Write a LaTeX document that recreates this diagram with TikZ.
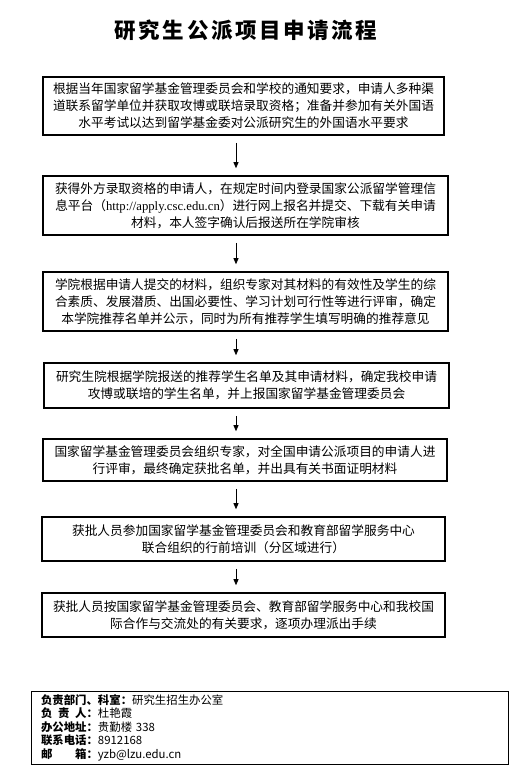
\documentclass[tikz,border=0pt]{standalone}
\usepackage{fontspec}
\usepackage{tikz}
\usetikzlibrary{arrows.meta, positioning, calc}
\newfontfamily\cjk{Noto Sans CJK SC}
\newfontfamily\urlfont{Liberation Serif}
\newcommand{\tsp}{\hspace{2.6pt}}

\tikzset{
  procbox/.style={draw, line width=1.6pt, inner sep=0pt, align=center,
    font=\cjk\fontsize{12.7}{17}\selectfont},
  arr/.style={-{Triangle[width=5pt,length=6pt]}, line width=0.8pt},
  infobox/.style={draw, line width=0.8pt, inner xsep=10pt, inner ysep=0pt,
    align=left, font=\cjk\fontsize{11.4}{13.5}\selectfont},
}

\begin{document}
\begin{tikzpicture}[x=1pt, y=-1pt]
\useasboundingbox (0,0) rectangle (521,782);

% Title
\node[font=\cjk\bfseries\fontsize{21.5}{26}\selectfont] (title) at (246,30)
  {研\tsp 究\tsp 生\tsp 公\tsp 派\tsp 项\tsp 目\tsp 申\tsp 请\tsp 流\tsp 程};

% Steps
\node[procbox, minimum width=401, minimum height=58] (p1) at (243.5,106)
  {根据当年国家留学基金管理委员会和学校的通知要求，申请人多种渠\\道联系留学单位并获取攻博或联培录取资格；准备并参加有关外国语\\水平考试以达到留学基金委对公派研究生的外国语水平要求};
\node[procbox, minimum width=405, minimum height=59] (p2) at (245.5,205.5)
  {获得外方录取资格的申请人，在规定时间内登录国家公派留学管理信\\息平台（{\urlfont http://apply.csc.edu.cn}）进行网上报名并提交、下载有关申请\\材料，本人签字确认后报送所在学院审核};
\node[procbox, minimum width=405, minimum height=59] (p3) at (245.5,301.5)
  {学院根据申请人提交的材料，组织专家对其材料的有效性及学生的综\\合素质、发展潜质、出国必要性、学习计划可行性等进行评审，确定\\本学院推荐名单并公示，同时为所有推荐学生填写明确的推荐意见};
\node[procbox, minimum width=405, minimum height=45] (p4) at (246.5,385.5)
  {研究生院根据学院报送的推荐学生名单及其申请材料，确定我校申请\\攻博或联培的学生名单，并上报国家留学基金管理委员会};
\node[procbox, minimum width=404, minimum height=42] (p5) at (245,460)
  {国家留学基金管理委员会组织专家，对全国申请公派项目的申请人进\\行评审，最终确定获批名单，并出具有关书面证明材料};
\node[procbox, minimum width=403, minimum height=44] (p6) at (243.5,539)
  {获批人员参加国家留学基金管理委员会和教育部留学服务中心\\联合组织的行前培训（分区域进行）};
\node[procbox, minimum width=403, minimum height=44] (p7) at (243.5,615)
  {获批人员按国家留学基金管理委员会、教育部留学服务中心和我校国\\际合作与交流处的有关要求，逐项办理派出手续};

% Arrows
\coordinate (ax) at (236,0);
\foreach \a/\b in {p1/p2, p2/p3, p3/p4, p4/p5, p5/p6, p6/p7}
  \draw[arr] ($(\a.south -| ax)+(0,7)$) -- ($(\b.north -| ax)+(0,-7)$);

% Contact
\node[infobox, minimum width=477, minimum height=73, text width=457pt] (info) at (269.5,727.5)
  {\textbf{负责部门、科室：}研究生招生办公室\\
   \textbf{\makebox[4em][s]{负\hfill 责\hfill 人}：}杜艳霞\\
   \textbf{办公地址：}贵勤楼 338\\
   \textbf{联系电话：}8912168\\
   \textbf{\makebox[4em][s]{邮\hfill 箱}：}yzb@lzu.edu.cn};
\end{tikzpicture}
\end{document}
